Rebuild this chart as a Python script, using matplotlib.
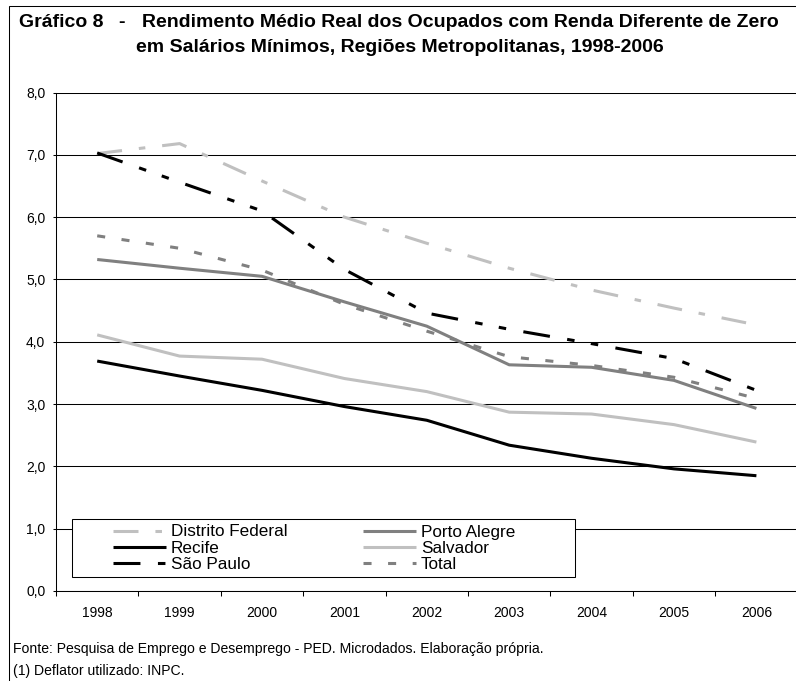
import matplotlib
matplotlib.use("Agg")
import matplotlib.pyplot as plt
from matplotlib.patches import Rectangle

plt.rcParams["font.family"] = ["Liberation Sans", "DejaVu Sans"]
plt.rcParams["lines.scale_dashes"] = False

# ---- data -------------------------------------------------------------
years = ["1998", "1999", "2000", "2001", "2002", "2003", "2004", "2005", "2006"]
distrito_federal = [7.02, 7.18, 6.58, 6.00, 5.58, 5.18, 4.83, 4.54, 4.27]
porto_alegre = [5.32, 5.18, 5.05, 4.64, 4.25, 3.63, 3.59, 3.38, 2.93]
recife = [3.69, 3.45, 3.22, 2.96, 2.74, 2.34, 2.13, 1.96, 1.85]
salvador = [4.11, 3.77, 3.72, 3.41, 3.20, 2.87, 2.84, 2.67, 2.39]
sao_paulo = [7.03, 6.56, 6.10, 5.16, 4.46, 4.20, 3.97, 3.73, 3.22]
total = [5.70, 5.50, 5.15, 4.60, 4.17, 3.76, 3.62, 3.43, 3.09]
y_ticks = [0, 1, 2, 3, 4, 5, 6, 7, 8]

# ---- figure in pixel units ---------------------------------------------
W, H = 796, 681
fig = plt.figure(figsize=(W / 100, H / 100), dpi=100)


def fx(x):
    return x / W


def fy(y):
    return 1 - y / H


ax = fig.add_axes([fx(56), fy(591), 9 * 82.4 / W, (591 - 92.5) / H])

LIGHT = "#c0c0c0"
MID = "#808080"
series = [
    ("Distrito Federal", distrito_federal, dict(color=LIGHT, dashes=(18, 12.2, 4.7, 12.2))),
    ("Porto Alegre", porto_alegre, dict(color=MID)),
    ("Recife", recife, dict(color="black")),
    ("Salvador", salvador, dict(color=LIGHT)),
    ("São Paulo", sao_paulo, dict(color="black", dashes=(19.4, 12.6, 5.4, 11.9, 5.4, 12.6))),
    ("Total", total, dict(color=MID, dashes=(5.8, 11.9))),
]

x = list(range(len(years)))
handles = {}
for name, vals, style in series:
    (ln,) = ax.plot(x, vals, lw=2.2, solid_capstyle="butt", dash_capstyle="butt",
                    solid_joinstyle="round", zorder=3, **style)
    handles[name] = ln

ax.set_xlim(-0.5, len(years) - 0.5)
ax.set_ylim(0, 8)
ax.set_yticks(y_ticks)
ax.set_yticklabels([f"{v:.1f}".replace(".", ",") for v in y_ticks], fontsize=10)
ax.set_xticks(x)
ax.set_xticklabels(years, fontsize=10)
ax.set_xticks([i - 0.5 for i in range(len(years) + 1)], minor=True)

ax.tick_params(axis="x", which="major", length=0, pad=10.5)
ax.tick_params(axis="x", which="minor", length=3.6, width=0.75, direction="out", color="black")
ax.tick_params(axis="y", length=2.5, width=0.75, direction="out", pad=5.2, color="black")

ax.yaxis.grid(True, color="black", lw=0.75)
ax.set_axisbelow(True)
for s in ("top", "right"):
    ax.spines[s].set_visible(False)
for s in ("left", "bottom"):
    ax.spines[s].set_color("black")
    ax.spines[s].set_linewidth(0.75)

# ---- legend -------------------------------------------------------------
box = Rectangle((fx(72.3), fy(577)), (575 - 72.3) / W, (577 - 519) / H,
                transform=fig.transFigure, facecolor="white", edgecolor="black",
                lw=0.75, zorder=4, clip_on=False)
ax.add_patch(box)

order = ["Distrito Federal", "Recife", "São Paulo", "Porto Alegre", "Salvador", "Total"]
leg = ax.legend([handles[n] for n in order], order, ncol=2, loc="upper left",
                bbox_to_anchor=(fx(113), fy(524.5)), bbox_transform=fig.transFigure,
                frameon=False, fontsize=12.3, handlelength=53 / 17.1,
                handletextpad=0.3, columnspacing=4.4, labelspacing=0.06,
                borderpad=0, borderaxespad=0)
leg.set_zorder(5)

# ---- title --------------------------------------------------------------
tkw = dict(fontsize=14, fontweight="bold", va="baseline")
fig.text(fx(19), fy(26.7), "Gráfico 8", **tkw)
fig.text(fx(118), fy(26.7), "-", **tkw)
fig.text(fx(142), fy(26.7),
         "Rendimento Médio Real dos Ocupados com Renda Diferente de Zero", **tkw)
fig.text(fx(136), fy(51.7),
         "em Salários Mínimos, Regiões Metropolitanas, 1998-2006", **tkw)

# ---- notes --------------------------------------------------------------
fig.text(fx(12.7), fy(648.5),
         "Fonte: Pesquisa de Emprego e Desemprego - PED. Microdados. Elaboração própria.",
         fontsize=10.1, va="center")
fig.text(fx(12.7), fy(670.5), "(1) Deflator utilizado: INPC.", fontsize=10.1, va="center")

# outer frame (runs past the right and bottom edges)
fig.add_artist(Rectangle((fx(9), -0.1), 1.2, fy(6.5) + 0.1, transform=fig.transFigure,
                         fill=False, edgecolor="black", lw=0.75))

fig.savefig("out.png", dpi=100)
